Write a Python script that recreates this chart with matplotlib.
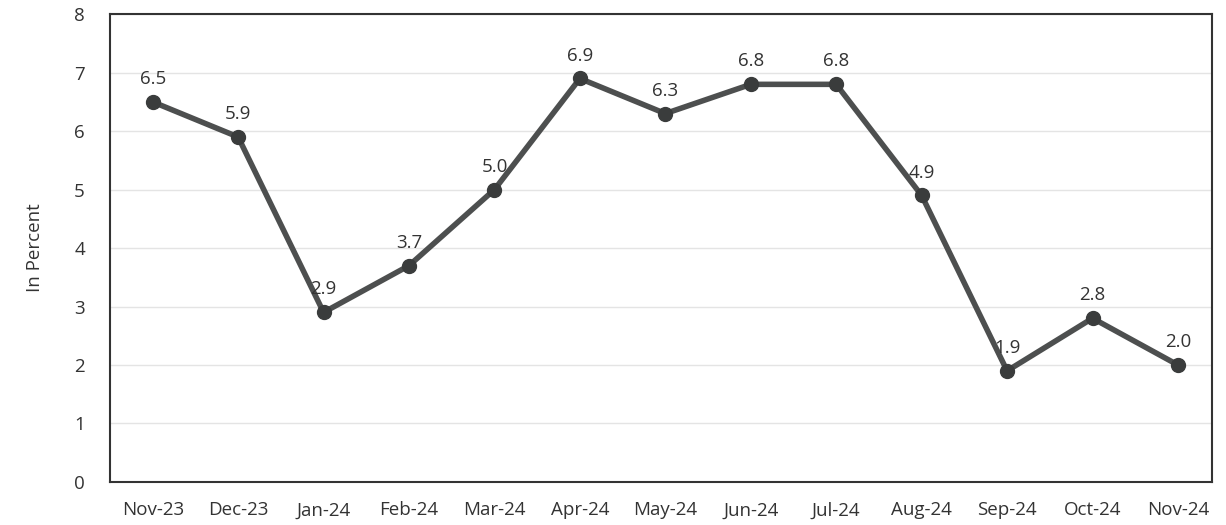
import matplotlib
matplotlib.use("Agg")
import matplotlib.pyplot as plt

months = ["Nov-23", "Dec-23", "Jan-24", "Feb-24", "Mar-24", "Apr-24", "May-24",
          "Jun-24", "Jul-24", "Aug-24", "Sep-24", "Oct-24", "Nov-24"]
values = [6.5, 5.9, 2.9, 3.7, 5.0, 6.9, 6.3, 6.8, 6.8, 4.9, 1.9, 2.8, 2.0]

plt.rcParams["font.family"] = ["Open Sans", "DejaVu Sans"]

fig = plt.figure(figsize=(12.26, 5.25), dpi=100)
ax = fig.add_axes([0.0897, 0.082, 0.899, 0.891])

x = range(len(months))
ax.plot(x, values, color="#4d4f4f", lw=4, marker="o", ms=10,
        markerfacecolor="#3a3c3c", markeredgecolor="#3a3c3c", zorder=3)
for i, v in enumerate(values):
    ax.annotate(f"{v:.1f}", (i, v), xytext=(0, 10), textcoords="offset points",
                ha="center", va="bottom", fontsize=13.5, color="#333333")

ax.set_xlim(-0.5, len(months) - 0.6)
ax.set_ylim(0, 8)
ax.set_yticks(range(9))
ax.set_xticks(list(x))
ax.set_xticklabels(months)
ax.tick_params(axis="x", length=0, labelsize=13.5, colors="#333333", pad=14)
ax.tick_params(axis="y", length=0, labelsize=13.5, colors="#333333", pad=18)
ax.set_ylabel("In Percent", fontsize=13.5, color="#333333", labelpad=22)
ax.grid(axis="y", color="#e4e4e4", lw=1)
ax.set_axisbelow(True)
for s in ax.spines.values():
    s.set_color("#333333")
    s.set_linewidth(1.5)

fig.savefig("out.png", dpi=100)
